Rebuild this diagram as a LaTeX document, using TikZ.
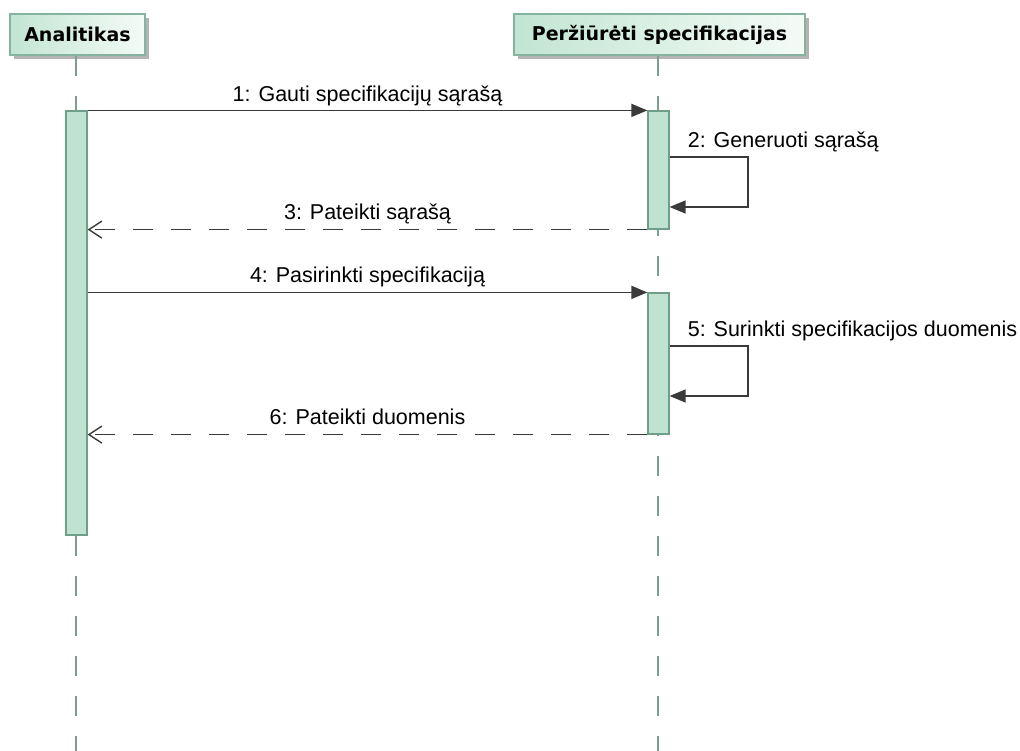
\documentclass[tikz,border=0pt]{standalone}
\usepackage{fontspec}
\setmainfont{Liberation Sans}
\newfontfamily\headfont{DejaVu Sans}
\usetikzlibrary{arrows.meta,calc,shadows}

\definecolor{boxline}{HTML}{86B39F}
\definecolor{mintdark}{HTML}{C2E5D3}
\definecolor{mintlight}{HTML}{F4FBF7}
\definecolor{barfill}{HTML}{C0E3D1}
\definecolor{barline}{HTML}{6E9F88}
\definecolor{lifec}{HTML}{7D9F91}
\definecolor{msgc}{HTML}{3A3A3A}
\definecolor{shadowc}{HTML}{B4B4B4}

\begin{document}
\begin{tikzpicture}[x=1pt,y=-1pt,
  actor/.style={draw=boxline, line width=1.2pt, left color=mintdark, right color=mintlight,
    minimum height=41pt, inner sep=0pt,
    font=\headfont\bfseries\fontsize{19}{22}\selectfont,
    drop shadow={shadow xshift=4pt, shadow yshift=-4pt, fill=shadowc, opacity=1}},
  lifeline/.style={draw=lifec, line width=1.8pt, dash pattern=on 20pt off 20pt},
  bar/.style={draw=barline, fill=barfill, line width=1.2pt, minimum width=21pt, inner sep=0pt},
  msg/.style={draw=msgc, line width=1.4pt, -{Triangle[length=16pt,width=13pt]}},
  ret/.style={draw=msgc, line width=1.4pt, dash pattern=on 20pt off 18pt,
    -{Straight Barb[length=13pt,width=17pt,line width=1.4pt]}},
  lbl/.style={font=\fontsize{21.5}{24}\selectfont, inner sep=0pt, anchor=base}]

  \useasboundingbox (0,0) rectangle (1020,751);

  % participants
  \node[actor, minimum width=135pt] (pa) at (77.5,34.5) {Analitikas};
  \node[actor, minimum width=291pt] (pb) at (659.5,34.5) {Peržiūrėti specifikacijas};

  % lifelines
  \coordinate (ea) at (76,751);
  \coordinate (eb) at (658,751);
  \draw[lifeline] (pa.south -| ea) -- (ea);
  \draw[lifeline] (pb.south -| eb) -- (eb);

  % activation bars
  \node[bar, minimum height=424pt] (a1) at (76.5,323) {};
  \node[bar, minimum height=118pt] (b1) at (658.5,170) {};
  \node[bar, minimum height=141pt] (b2) at (658.5,363.5) {};

  % 1: request
  \draw[msg] (a1.north east) -- (b1.north west)
    node[lbl, midway, yshift=9pt] (l1) {1: Gauti specifikacijų sąrašą};

  % 2: self call
  \coordinate (s2a) at (748,157);
  \coordinate (s2b) at (748,207);
  \draw[msg] (b1.east |- s2a) -- (s2a) -- (s2b) -- (b1.east |- s2b);
  \node[lbl, anchor=base west] (l2) at ($(b1.east |- s2a)+(18,-9.5)$) {2: Generuoti sąrašą};

  % 3: return
  \draw[ret] (b1.south west) -- (a1.east |- b1.south)
    node[lbl, midway, yshift=10pt] (l3) {3: Pateikti sąrašą};

  % 4: request
  \draw[msg] (a1.east |- b2.north) -- (b2.north west)
    node[lbl, midway, yshift=10pt] (l4) {4: Pasirinkti specifikaciją};

  % 5: self call
  \coordinate (s5a) at (748,346);
  \coordinate (s5b) at (748,396);
  \draw[msg] (b2.east |- s5a) -- (s5a) -- (s5b) -- (b2.east |- s5b);
  \node[lbl, anchor=base west] (l5) at ($(b2.east |- s5a)+(18,-9.5)$) {5: Surinkti specifikacijos duomenis};

  % 6: return
  \draw[ret] (b2.south west) -- (a1.east |- b2.south)
    node[lbl, midway, yshift=10pt] (l6) {6: Pateikti duomenis};
\end{tikzpicture}
\end{document}
